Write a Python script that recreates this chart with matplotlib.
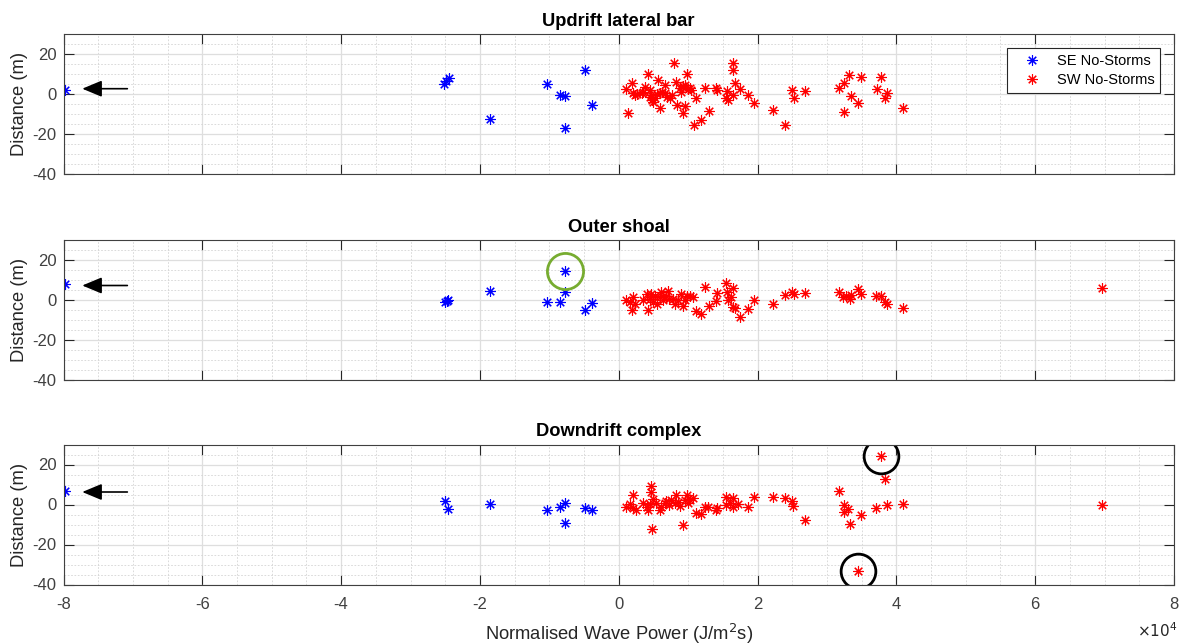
import numpy as np
import matplotlib
matplotlib.use("Agg")
import matplotlib.pyplot as plt

plt.rcParams['font.family'] = ['Liberation Sans', 'DejaVu Sans']
plt.rcParams['axes.unicode_minus'] = False

# x values are in units of 1e4 J/m^2s
titles = ["Updrift lateral bar", "Outer shoal", "Downdrift complex"]

# ---- Updrift lateral bar ----
se1_x = [-7.98, -2.52, -2.49, -2.45, -1.86, -1.04, -0.85, -0.78, -0.48, -0.38, -0.77]
se1_y = [2.0, 5.0, 6.5, 8.0, -12.2, 5.1, -0.4, -0.7, 12.2, -5.5, -17.0]
sw1_x = [0.11, 0.13, 0.19, 0.20, 0.23, 0.34, 0.38, 0.42, 0.45, 0.47, 0.48, 0.50, 0.57, 0.60,
         0.66, 0.67, 0.74, 0.77, 0.80, 0.83, 0.84, 0.90, 0.92, 0.95, 0.96, 0.98, 1.02, 1.04,
         1.08, 1.11, 1.19, 1.24, 1.30, 1.40, 1.41, 1.54, 1.56, 1.57, 1.64, 1.64, 1.64, 1.68,
         1.74, 1.86, 1.95, 2.22, 2.39, 2.50, 2.52, 2.68, 3.17, 3.24, 3.25, 3.32, 3.35, 3.44,
         3.49, 3.72, 3.78, 3.84, 3.87, 4.09,
         0.35, 0.55, 0.62, 0.70, 0.88, 0.93, 1.00, 0.45, 0.52, 0.60, 0.27]
sw1_y = [2.5, -9.5, 5.8, 0.5, -0.5, 0.5, 3.5, 10.0, 2.0, -0.4, -2.9, -3.7, 7.2, -7.0,
         4.7, 0.5, -2.0, -0.4, 15.8, 6.0, -5.3, 1.3, -9.5, -6.0, 4.7, 10.0, 3.0, 2.0,
         -15.3, -2.0, -12.8, 3.0, -8.3, 3.0, 2.0, -2.0, 1.8, -2.8, 15.5, 12.2, -0.4, 5.5,
         2.5, -0.4, -4.2, -7.8, -15.3, 2.0, -2.0, 1.5, 3.0, 5.8, -8.7, 9.6, -0.9, -4.2,
         8.5, 2.5, 8.8, -2.0, 0.5, -7.0,
         1.0, 0.0, 1.0, -1.5, 3.0, 4.0, 2.5, -1.5, -2.0, 0.5, 0.2]

# ---- Outer shoal ----
se2_x = [-7.98, -2.50, -2.48, -2.46, -1.86, -1.04, -0.85, -0.77, -0.77, -0.48, -0.38]
se2_y = [8.2, -1.0, -0.5, 0.0, 4.7, -1.1, -0.8, 14.4, 4.2, -4.9, -1.6]
sw2_x = [0.11, 0.16, 0.19, 0.21, 0.23, 0.35, 0.40, 0.42, 0.45, 0.47, 0.49, 0.52, 0.55, 0.59,
         0.61, 0.64, 0.68, 0.71, 0.73, 0.78, 0.81, 0.85, 0.90, 0.93, 0.95, 0.98, 1.02, 1.07,
         1.11, 1.18, 1.24, 1.30, 1.40, 1.41, 1.54, 1.56, 1.57, 1.62, 1.64, 1.64, 1.67, 1.74,
         1.86, 1.95, 2.22, 2.39, 2.50, 2.53, 2.68, 3.17, 3.23, 3.28, 3.33, 3.35, 3.44, 3.49,
         3.71, 3.78, 3.83, 3.86, 4.09, 6.96]
sw2_y = [0.1, -1.1, -4.9, 1.7, -1.9, 0.1, 3.1, -5.2, 0.6, 3.1, -1.1, 2.2, -1.9, 1.4,
         3.9, -0.2, 2.2, 4.4, 0.6, 0.6, -1.9, 0.1, 3.1, -2.8, -0.2, 2.2, 2.2, 1.4,
         -5.6, -7.2, 6.4, -3.2, -0.6, 3.4, 8.4, 3.9, -0.2, 1.4, 5.9, -3.6, -4.1, -8.6,
         -4.4, 0.1, -1.9, 2.6, 3.9, 3.1, 3.4, 3.9, 1.4, 2.2, 0.6, 2.6, 5.6, 2.8,
         2.2, 2.2, -1.1, -2.2, -3.9, 5.9]

# ---- Downdrift complex ----
se3_x = [-7.98, -2.51, -2.46, -1.86, -1.04, -0.85, -0.77, -0.77, -0.48, -0.38]
se3_y = [6.7, 1.75, -2.25, 0.1, -2.75, -1.1, 0.6, -9.4, -1.6, -2.75]
sw3_x = [0.11, 0.16, 0.20, 0.21, 0.25, 0.35, 0.40, 0.42, 0.45, 0.47, 0.47, 0.48, 0.49, 0.54,
         0.59, 0.61, 0.66, 0.68, 0.73, 0.76, 0.81, 0.83, 0.85, 0.88, 0.93, 0.95, 0.98, 1.00,
         1.03, 1.07, 1.12, 1.18, 1.24, 1.29, 1.40, 1.41, 1.54, 1.55, 1.60, 1.64, 1.65, 1.72,
         1.86, 1.95, 2.22, 2.39, 2.50, 2.51, 2.68, 3.17, 3.24, 3.25, 3.31, 3.33, 3.49, 3.44,
         3.71, 3.78, 3.84, 3.86, 4.09, 6.96]
sw3_y = [-1.4, 0.2, 4.75, -1.9, -2.75, 0.9, -1.1, -2.75, 0.2, 9.25, 6.4, -12.4, 3.0, 0.6,
         -2.75, -1.1, 0.6, 1.9, -0.25, 2.25, 0.6, 4.75, 1.4, -0.75, -10.25, 2.25, 4.75, 0.9,
         2.25, 3.1, -4.4, -4.75, -1.4, -1.4, -2.75, -1.9, 3.9, -0.25, 0.9, 3.1, -1.1, 0.2,
         -1.4, 3.9, 3.9, 3.1, 1.9, -0.75, -7.75, 6.9, -0.25, -3.6, -2.4, -9.9, -5.25, -33.1,
         -1.9, 24.25, 12.6, -0.25, 0.2, -0.25]

# highlighted points (circled)
green_x, green_y = [-0.77], [14.4]
black_x, black_y = [3.78, 3.44], [24.25, -33.1]

se_x = [se1_x, se2_x, se3_x]
se_y = [se1_y, se2_y, se3_y]
sw_x = [sw1_x, sw2_x, sw3_x]
sw_y = [sw1_y, sw2_y, sw3_y]
arrow_y = [2.8, 7.25, 6.25]

W, H = 1181, 644
fig = plt.figure(figsize=(W / 100, H / 100), dpi=100)
left_px, right_px = 63.5, 1174.0
tops_px = [34.3, 240.0, 444.5]
h_px = 140.0

dark = '#262626'
star = (8, 2, 0)
axes = []
for i in range(3):
    ax = fig.add_axes([left_px / W, 1 - (tops_px[i] + h_px) / H,
                       (right_px - left_px) / W, h_px / H])
    axes.append(ax)
    ax.set_xlim(-8, 8)
    ax.set_ylim(-40, 30)
    ax.set_xticks(np.arange(-8, 9, 2))
    ax.set_yticks([-40, -20, 0, 20])
    ax.set_xticks(np.arange(-8, 8.01, 0.5), minor=True)
    ax.set_yticks(np.arange(-40, 30.1, 5), minor=True)
    ax.set_axisbelow(True)
    ax.grid(which='major', color='#dedede', lw=0.9, ls='-')
    ax.grid(which='minor', color='#d4d4d4', lw=0.6, ls=(0, (2, 2)))
    ax.tick_params(which='both', direction='in', top=True, right=True)
    ax.tick_params(which='minor', length=0)
    ax.tick_params(which='major', length=7, width=0.8, color=dark,
                   labelsize=12, labelcolor='#404040', pad=5)
    ax.tick_params(axis='x', which='major', pad=9)
    for s in ax.spines.values():
        s.set_color('#404040')
        s.set_linewidth(0.8)
    ax.plot(se_x[i], se_y[i], ls='none', marker=star, ms=7.5, mew=0.8,
            color='#0000ff', label='SE No-Storms')
    ax.plot(sw_x[i], sw_y[i], ls='none', marker=star, ms=7.5, mew=0.8,
            color='#ff0000', label='SW No-Storms')
    ax.set_title(titles[i], fontsize=13.2, fontweight='bold', pad=6, color='k')
    ax.set_ylabel('Distance (m)', fontsize=13.2, color=dark, labelpad=3)
    ax.annotate('', xy=(-7.73, arrow_y[i]), xytext=(-7.08, arrow_y[i]),
                arrowprops=dict(arrowstyle='-|>,head_length=0.6,head_width=0.25',
                                color='k', lw=1.2, mutation_scale=20,
                                shrinkA=0, shrinkB=0))
    if i < 2:
        ax.tick_params(labelbottom=False)

axes[1].plot(green_x, green_y, ls='none', marker='o', ms=26, mfc='none',
             mec='#77ac30', mew=2.0)
axes[2].plot(black_x, black_y, ls='none', marker='o', ms=25, mfc='none',
             mec='k', mew=2.0)

axes[2].set_xlabel('Normalised Wave Power (J/m$^2$s)', fontsize=13.2, color=dark, labelpad=7)
fig.text(1177 / W, 1 - 631 / H, r'$\times10^{4}$', fontsize=11, color=dark,
         ha='right', va='center')

leg = axes[0].legend(loc='upper right', fontsize=10.5, frameon=True, fancybox=False,
                     framealpha=1, edgecolor=dark, borderaxespad=0.95,
                     handlelength=2.7, handletextpad=0.3, borderpad=0.4,
                     labelspacing=0.35)
leg.get_frame().set_linewidth(0.8)

fig.savefig('out.png', dpi=100)
